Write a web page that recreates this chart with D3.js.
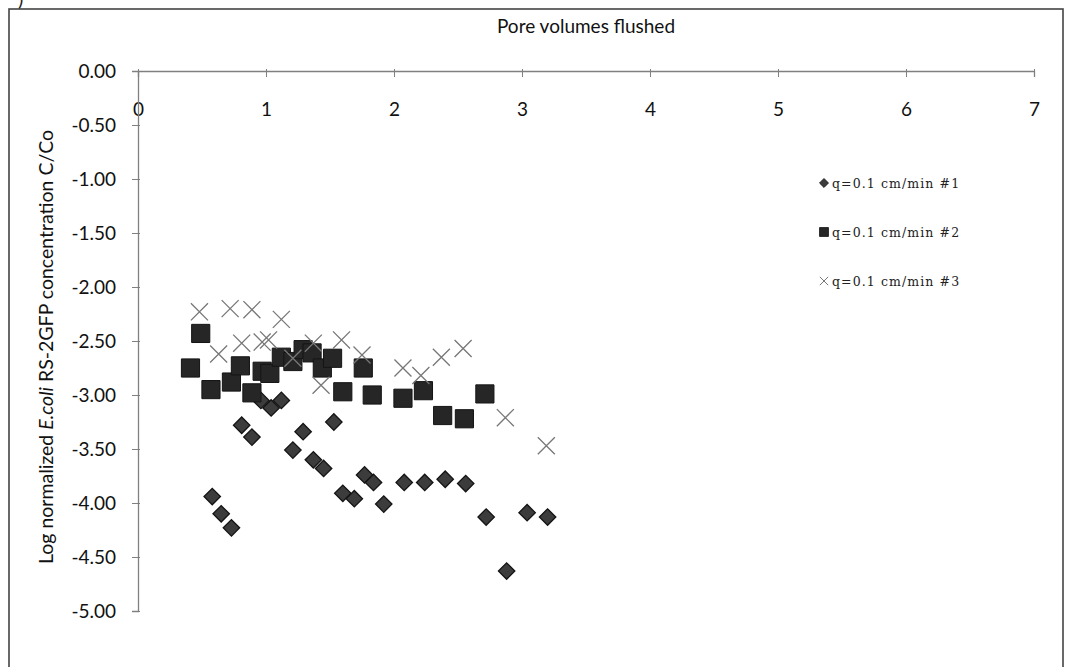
<!DOCTYPE html>
<html>
<head>
<meta charset="utf-8">
<script src="https://cdn.jsdelivr.net/npm/d3@7"></script>
<style>
  html, body { margin: 0; padding: 0; background: #fff; }
  svg { display: block; }
</style>
</head>
<body>
<svg id="chart" width="1073" height="667"></svg>
<script>
// Pore volumes flushed (x) and log normalized C/Co (y) for three replicate runs
const run1X = [0.58, 0.65, 0.73, 0.81, 0.89, 0.96, 1.04, 1.12, 1.21, 1.29, 1.37, 1.45, 1.53,
               1.60, 1.69, 1.77, 1.84, 1.92, 2.08, 2.24, 2.40, 2.56, 2.72, 2.88, 3.04, 3.20];
const run1Y = [-3.94, -4.10, -4.23, -3.28, -3.39, -3.05, -3.12, -3.05, -3.51, -3.34, -3.60, -3.68, -3.25,
               -3.91, -3.96, -3.74, -3.81, -4.01, -3.81, -3.81, -3.78, -3.82, -4.13, -4.63, -4.09, -4.13];

const run2X = [0.41, 0.49, 0.57, 0.73, 0.80, 0.89, 0.97, 1.03, 1.12, 1.21, 1.29, 1.36, 1.44,
               1.52, 1.60, 1.76, 1.83, 2.07, 2.23, 2.38, 2.55, 2.71];
const run2Y = [-2.75, -2.43, -2.95, -2.88, -2.73, -2.98, -2.78, -2.80, -2.65, -2.69, -2.58, -2.61, -2.75,
               -2.66, -2.97, -2.75, -3.00, -3.03, -2.96, -3.19, -3.22, -2.99];

const run3X = [0.48, 0.63, 0.72, 0.81, 0.89, 0.97, 1.02, 1.12, 1.21, 1.37, 1.43, 1.59, 1.75,
               2.07, 2.21, 2.37, 2.54, 2.87, 3.19];
const run3Y = [-2.23, -2.62, -2.20, -2.52, -2.21, -2.51, -2.49, -2.30, -2.66, -2.52, -2.91, -2.49, -2.63,
               -2.75, -2.82, -2.65, -2.57, -3.21, -3.47];

const seriesNames = ["q=0.1 cm/min #1", "q=0.1 cm/min #2", "q=0.1 cm/min #3"];
const xTicks = [0, 1, 2, 3, 4, 5, 6, 7];
const yTicks = [0, -0.5, -1, -1.5, -2, -2.5, -3, -3.5, -4, -4.5, -5];

const svg = d3.select("#chart");
const FONT = "Lato, 'Open Sans', sans-serif";

// plot geometry
const plotLeft = 138, plotRight = 1034, plotTop = 71, plotBottom = 611;
const x = d3.scaleLinear().domain([0, 7]).range([plotLeft, plotRight]);
const y = d3.scaleLinear().domain([0, -5]).range([plotTop, plotBottom]);

const fmt = d3.formatLocale({ decimal: ".", thousands: ",", grouping: [3], currency: ["", ""], minus: "-" }).format(".2f");

// outer chart frame (bottom edge runs past the page)
svg.append("rect")
  .attr("x", 9).attr("y", 9)
  .attr("width", 1054).attr("height", 690)
  .attr("fill", "none").attr("stroke", "#444").attr("stroke-width", 1.6);

// panel letter, mostly clipped by the page edge
svg.append("text")
  .attr("x", 18).attr("y", 6)
  .attr("font-family", FONT)
  .attr("font-size", 20).attr("fill", "#222")
  .text(")");

// x axis (drawn along y = 0, at the top)
const xAxis = svg.append("g")
  .attr("transform", `translate(0,${y(0)})`)
  .call(d3.axisBottom(x).tickValues(xTicks).tickFormat(d3.format("d")).tickSize(6).tickPadding(26));
xAxis.select(".domain").attr("stroke", "#808080").attr("stroke-width", 1.3);
xAxis.selectAll(".tick line").attr("stroke", "#808080").attr("y1", -2);
xAxis.selectAll(".tick text")
  .attr("font-family", FONT)
  .attr("font-size", 19).attr("fill", "#111");

// y axis
const yAxis = svg.append("g")
  .attr("transform", `translate(${x(0)},0)`)
  .call(d3.axisLeft(y).tickValues(yTicks).tickFormat(fmt).tickSize(6).tickPadding(16));
yAxis.select(".domain").attr("stroke", "#808080").attr("stroke-width", 1.3);
yAxis.selectAll(".tick line").attr("stroke", "#808080").attr("x2", -6).attr("x1", 2);
yAxis.selectAll(".tick text")
  .attr("font-family", FONT)
  .attr("font-size", 19).attr("fill", "#111");

// axis titles
svg.append("text")
  .attr("x", (plotLeft + plotRight) / 2).attr("y", 33)
  .attr("text-anchor", "middle")
  .attr("font-family", FONT)
  .attr("font-size", 19).attr("fill", "#111")
  .text("Pore volumes flushed");

const yTitle = svg.append("text")
  .attr("transform", `translate(53,${(plotTop + plotBottom) / 2 + 6}) rotate(-90)`)
  .attr("text-anchor", "middle")
  .attr("font-family", FONT)
  .attr("font-size", 19.5).attr("fill", "#111");
yTitle.append("tspan").text("Log normalized ");
yTitle.append("tspan").attr("font-style", "italic").text("E.coli");
yTitle.append("tspan").text(" RS-2GFP concentration C/Co");

// marker shapes
const crossShape = {
  draw(ctx, size) {
    const r = Math.sqrt(size) / 2;
    ctx.moveTo(-r, -r); ctx.lineTo(r, r);
    ctx.moveTo(r, -r); ctx.lineTo(-r, r);
  }
};

const styles = [
  { type: d3.symbolSquare, size: 135, rot: 45, fill: "#3c3c3c", stroke: "#141414", sw: 1.3 },
  { type: d3.symbolSquare, size: 330, rot: 0, fill: "#262626", stroke: "#141414", sw: 1 },
  { type: crossShape, size: 290, rot: 0, fill: "none", stroke: "#777", sw: 1.3 }
];

const runs = [
  d3.zip(run1X, run1Y),
  d3.zip(run2X, run2Y),
  d3.zip(run3X, run3Y)
];

runs.forEach((pts, i) => {
  const s = styles[i];
  svg.append("g").selectAll("path")
    .data(pts)
    .join("path")
    .attr("transform", d => `translate(${x(d[0])},${y(d[1])}) rotate(${s.rot})`)
    .attr("d", d3.symbol().type(s.type).size(s.size))
    .attr("fill", s.fill)
    .attr("stroke", s.stroke)
    .attr("stroke-width", s.sw);
});

// legend
const legendSizes = [40, 80, 70];
const legend = svg.append("g").attr("transform", "translate(824,183)");
seriesNames.forEach((name, i) => {
  const s = styles[i];
  const g = legend.append("g").attr("transform", `translate(0,${i * 49})`);
  g.append("path")
    .attr("transform", `rotate(${s.rot})`)
    .attr("d", d3.symbol().type(s.type).size(legendSizes[i]))
    .attr("fill", s.fill).attr("stroke", s.stroke).attr("stroke-width", i === 2 ? 1 : 0.8);
  g.append("text")
    .attr("x", 8).attr("y", 4.5)
    .attr("font-family", "'DejaVu Serif', 'Liberation Serif', serif")
    .attr("font-size", 12.5).attr("letter-spacing", 1.1)
    .attr("fill", "#222")
    .text(name);
});
</script>
</body>
</html>
